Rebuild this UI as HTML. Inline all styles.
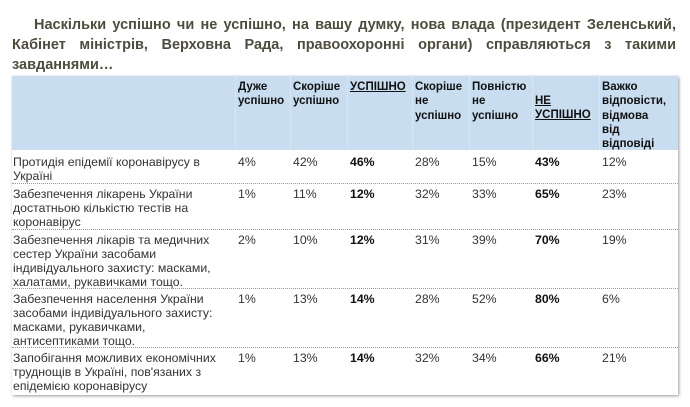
<!DOCTYPE html>
<html><head><meta charset="utf-8"><style>
body{margin:0;width:690px;height:407px;background:#fff;font-family:"Liberation Sans",sans-serif;position:relative;overflow:hidden}
.t{position:absolute;left:12px;width:664px;font-weight:bold;font-size:14.5px;color:#4d4d3d;line-height:20px;text-align:justify}
.tb{position:absolute;left:12px;top:76px;width:666px;height:319px;box-shadow:1px 1px 3px #999;background:#fff}
.hd{position:absolute;left:0;top:0;width:666px;height:74px;background:#c8ddef}
.c{position:absolute;font-size:12.3px;line-height:14px;color:#333}
.h{font-weight:bold;color:#111;font-size:11.5px;line-height:14.3px}
.u{text-decoration:underline}
.b{font-weight:bold;color:#111}
.vl{position:absolute;top:0;height:74px;border-left:1px dotted #e8eef5}
.hl{position:absolute;left:0;width:666px;border-top:1px dotted #999}
</style></head><body>
<div class="t" style="top:15px;text-indent:22px">Наскільки успішно чи не успішно, на вашу думку, нова влада (президент Зеленський, Кабінет міністрів, Верховна Рада, правоохоронні органи) справляються з такими завданнями…</div>
<div class="tb">
<div class="hd"></div>
<div class="vl" style="left:223px"></div><div class="vl" style="left:278px"></div><div class="vl" style="left:335px"></div><div class="vl" style="left:400px"></div><div class="vl" style="left:457px"></div><div class="vl" style="left:520px"></div><div class="vl" style="left:587px"></div>
<div class="c h" style="left:226px;top:4px">Дуже<br>успішно</div>
<div class="c h" style="left:281px;top:4px">Скоріше<br>успішно</div>
<div class="c h u" style="left:338px;top:4px">УСПІШНО</div>
<div class="c h" style="left:403px;top:4px">Скоріше<br>не<br>успішно</div>
<div class="c h" style="left:460px;top:4px">Повністю<br>не<br>успішно</div>
<div class="c h u" style="left:523px;top:18px">НЕ<br>УСПІШНО</div>
<div class="c h" style="left:590px;top:4px">Важко<br>відповісти,<br>відмова<br>від<br>відповіді</div>
<div class="hl" style="top:107px"></div><div class="hl" style="top:153px"></div><div class="hl" style="top:212px"></div><div class="hl" style="top:271px"></div>

<div class="c" style="left:1px;top:79px">Протидія епідемії коронавірусу в<br>Україні</div>
<div class="c" style="left:1px;top:111px">Забезпечення лікарень України<br>достатньою кількістю тестів на<br>коронавірус</div>
<div class="c" style="left:1px;top:157px">Забезпечення лікарів та медичних<br>сестер України засобами<br>індивідуального захисту: масками,<br>халатами, рукавичками тощо.</div>
<div class="c" style="left:1px;top:216px">Забезпечення населення України<br>засобами індивідуального захисту:<br>масками, рукавичками,<br>антисептиками тощо.</div>
<div class="c" style="left:1px;top:275px">Запобігання можливих економічних<br>труднощів в Україні, пов'язаних з<br>епідемією коронавірусу</div>

<div class="c" style="left:226px;top:79px">4%</div><div class="c" style="left:281px;top:79px">42%</div><div class="c b" style="left:338px;top:79px">46%</div><div class="c" style="left:403px;top:79px">28%</div><div class="c" style="left:460px;top:79px">15%</div><div class="c b" style="left:523px;top:79px">43%</div><div class="c" style="left:590px;top:79px">12%</div>
<div class="c" style="left:226px;top:111px">1%</div><div class="c" style="left:281px;top:111px">11%</div><div class="c b" style="left:338px;top:111px">12%</div><div class="c" style="left:403px;top:111px">32%</div><div class="c" style="left:460px;top:111px">33%</div><div class="c b" style="left:523px;top:111px">65%</div><div class="c" style="left:590px;top:111px">23%</div>
<div class="c" style="left:226px;top:157px">2%</div><div class="c" style="left:281px;top:157px">10%</div><div class="c b" style="left:338px;top:157px">12%</div><div class="c" style="left:403px;top:157px">31%</div><div class="c" style="left:460px;top:157px">39%</div><div class="c b" style="left:523px;top:157px">70%</div><div class="c" style="left:590px;top:157px">19%</div>
<div class="c" style="left:226px;top:216px">1%</div><div class="c" style="left:281px;top:216px">13%</div><div class="c b" style="left:338px;top:216px">14%</div><div class="c" style="left:403px;top:216px">28%</div><div class="c" style="left:460px;top:216px">52%</div><div class="c b" style="left:523px;top:216px">80%</div><div class="c" style="left:590px;top:216px">6%</div>
<div class="c" style="left:226px;top:275px">1%</div><div class="c" style="left:281px;top:275px">13%</div><div class="c b" style="left:338px;top:275px">14%</div><div class="c" style="left:403px;top:275px">32%</div><div class="c" style="left:460px;top:275px">34%</div><div class="c b" style="left:523px;top:275px">66%</div><div class="c" style="left:590px;top:275px">21%</div>
</div>
</body></html>
